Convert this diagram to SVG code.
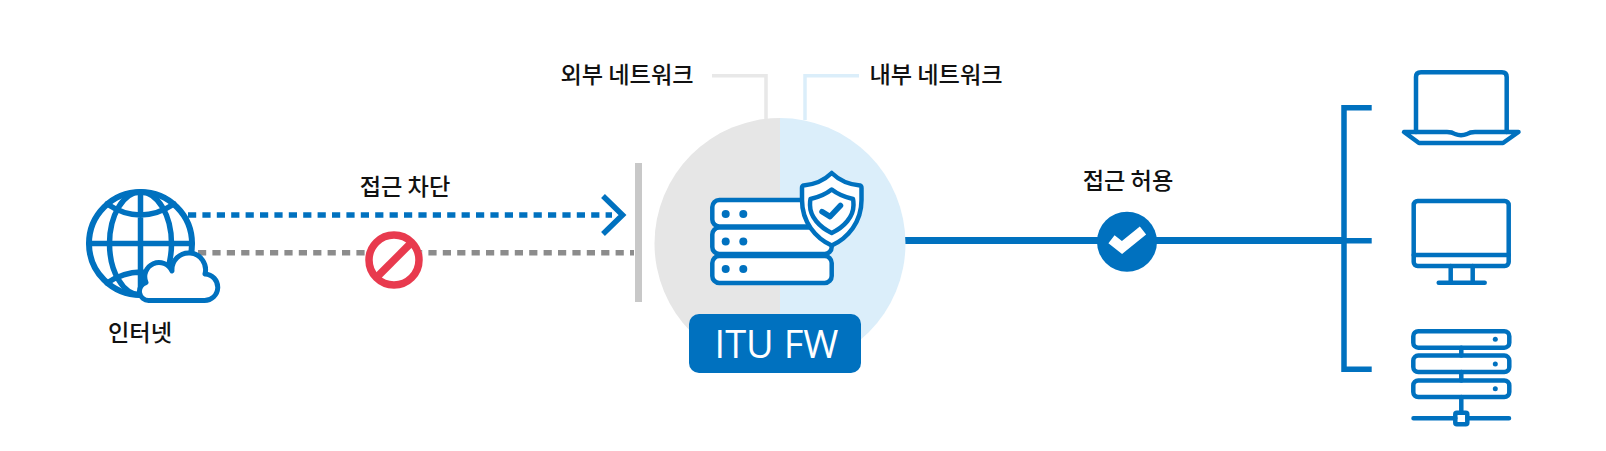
<svg xmlns="http://www.w3.org/2000/svg" width="1606" height="451" viewBox="0 0 1606 451">
<style>
.ic{fill:none;stroke:#0071bf;stroke-linejoin:round;stroke-linecap:round}
.w{fill:#fff}
.dot{fill:#0071bf;stroke:none}
.t{font-family:"Noto Sans CJK KR","Noto Sans",sans-serif;font-size:23.200px;font-weight:500;fill:#111;text-anchor:middle}
</style>
<rect width="1606" height="451" fill="#fff"/>
<g id="connectors" fill="none">
<path d="M712 75.700H766V120" stroke="#e8e8e8" stroke-width="3.500"/>
<path d="M859 75.700H805V120" stroke="#dbeefa" stroke-width="3.500"/>
<path d="M188 215H612" stroke="#0071bf" stroke-width="5.500" stroke-dasharray="8.200 6.200"/>
<path d="M603 196L622.500 215L603 234" stroke="#0071bf" stroke-width="5.500"/>
<path d="M198 252.700H634" stroke="#8c8c8c" stroke-width="5.500" stroke-dasharray="8.200 6.200"/>
<path d="M905 240.500H1344" stroke="#0071bf" stroke-width="7"/>
<path d="M1371.700 107.700H1344V369.300H1371.700M1344 240.700H1371.700" stroke="#0071bf" stroke-width="5.500"/>
</g>
<g id="wall"><rect x="635" y="163" width="7" height="139" fill="#c8c8c8"/></g>
<g id="internet">
<g class="ic" stroke-width="5.500">
<circle cx="140.500" cy="243.500" r="51.500" stroke-width="6" class="w"/>
<ellipse cx="140.500" cy="243.500" rx="31" ry="51.500"/>
<path d="M140.500 192V295M89 243.500H192M107 204Q140.500 226 174 204M107 283Q140.500 261 174 283"/>
</g>
<path class="ic w" stroke-width="5" d="M149 300.500A9.200 9.200 0 0 1 146 282.500A13.500 13.500 0 0 1 172 271A16.800 16.800 0 1 1 205 274A13.250 13.250 0 0 1 204 300.500Z"/>
<text class="t" x="140" y="341">인터넷</text>
</g>
<g id="blocked">
<circle cx="394" cy="260" r="28.700" fill="#fff"/>
<circle cx="394" cy="260" r="25" fill="#fff" stroke="#e83a4e" stroke-width="7.500"/>
<path d="M377 277L411 243" stroke="#e83a4e" stroke-width="7.500"/>
<text class="t" x="405" y="195">접근 차단</text>
</g>
<g id="firewall">
<path d="M780 118A125.500 125.500 0 0 0 780 369Z" fill="#e6e6e6"/>
<path d="M780 118A125.500 125.500 0 0 1 780 369Z" fill="#dbeefa"/>
<g class="ic" stroke-width="4.500">
<rect x="712.300" y="200" width="119.400" height="26.500" rx="7" class="w"/>
<rect x="712.300" y="227.500" width="119.400" height="26.500" rx="7" class="w"/>
<rect x="712.300" y="256" width="119.400" height="27" rx="7" class="w"/>
</g>
<circle class="dot" cx="725.700" cy="214" r="4"/><circle class="dot" cx="743.300" cy="214" r="4"/>
<circle class="dot" cx="725.700" cy="241.500" r="4"/><circle class="dot" cx="743.300" cy="241.500" r="4"/>
<circle class="dot" cx="725.700" cy="269" r="4"/><circle class="dot" cx="743.300" cy="269" r="4"/>
<path class="ic w" stroke-width="4.500" d="M831.700 173Q843 184 860 185.500Q861.500 186 861.500 188V200C861.500 222 848 238 831.700 245.500C815.500 238 802 222 802 200V188Q802 186 803.500 185.500Q820.500 184 831.700 173Z"/>
<path class="ic w" stroke-width="4.500" d="M831.700 189.500Q840 196 853 199C853.500 201 853.500 203 853.500 205C853.500 217 844 227 831.700 233C819.500 227 810 217 810 205C810 203 810 201 810.500 199Q823.500 196 831.700 189.500Z"/>
<path class="ic" stroke-width="5.500" d="M822 211.700L830 216.700L840.500 205.500"/>
<rect x="689" y="314" width="172" height="59" rx="10" fill="#0071bf"/>
<text x="776.500" y="358" font-family="'Open Sans',sans-serif" font-size="38" fill="#fff" text-anchor="middle">ITU FW</text>
</g>
<g id="labels">
<text class="t" x="627" y="83">외부 네트워크</text>
<text class="t" x="936" y="83">내부 네트워크</text>
</g>
<g id="allowed">
<circle cx="1127" cy="241.700" r="30" fill="#0071bf"/>
<path d="M1111.500 239.300L1122 247.500L1143 230.500" fill="none" stroke="#fff" stroke-width="10" stroke-linejoin="miter"/>
<text class="t" x="1128" y="189">접근 허용</text>
</g>
<g id="laptop" class="ic" stroke-width="4.500">
<path d="M1416 132V77Q1416 72.300 1421 72.300H1502Q1506.700 72.300 1506.700 77V132"/>
<path d="M1404 132H1447Q1452 132 1455 134Q1461 136.500 1467 134Q1470 132 1475 132H1518.500L1503 143H1419Z"/>
</g>
<g id="monitor" class="ic" stroke-width="4.500">
<rect x="1413.700" y="201" width="95" height="65" rx="4"/>
<path d="M1413.700 255H1508.700M1450.700 266V282.700M1472.700 266V282.700M1438.700 282.700H1484.700"/>
</g>
<g id="server" class="ic" stroke-width="4.500">
<rect x="1413.300" y="331.200" width="96" height="16.500" rx="5"/>
<rect x="1413.300" y="355.600" width="96" height="16.500" rx="5"/>
<rect x="1413.300" y="380.500" width="96" height="16.500" rx="5"/>
<path d="M1461.300 347.700V355.600M1461.300 372.100V380.500M1461.300 397V412.700M1413.500 418.300H1455.300M1467.300 418.300H1509"/>
<rect x="1455.300" y="412.700" width="12" height="11.500" rx="1.500"/>
<circle class="dot" cx="1495.300" cy="339.300" r="2.500"/><circle class="dot" cx="1495.300" cy="364" r="2.500"/><circle class="dot" cx="1495.300" cy="388.700" r="2.500"/>
</g>
</svg>
